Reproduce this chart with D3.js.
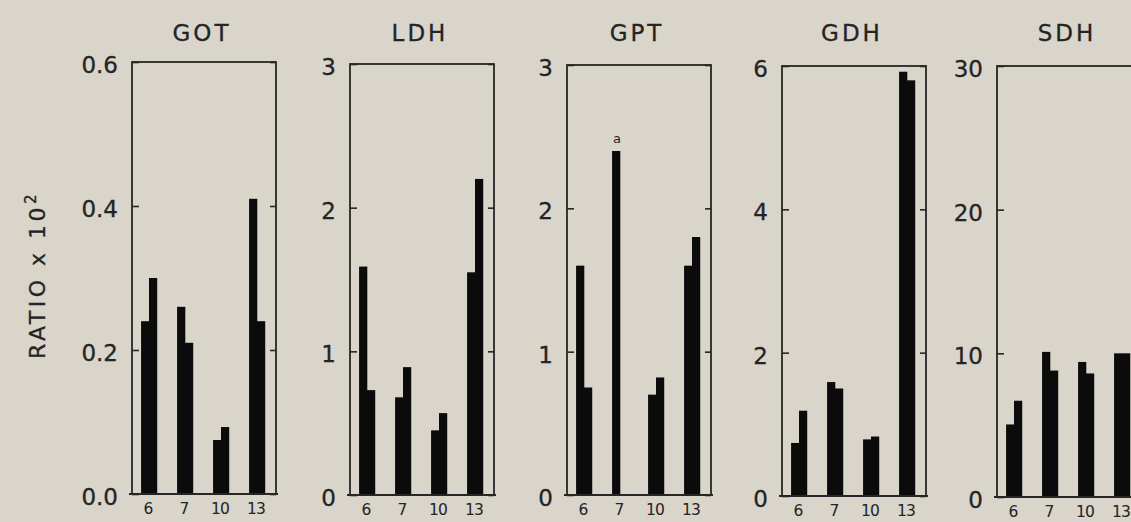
<!DOCTYPE html>
<html>
<head>
<meta charset="utf-8">
<script src="https://cdn.jsdelivr.net/npm/d3@7"></script>
<style>
  html, body { margin: 0; padding: 0; background: #d9d5ca; }
  svg { display: block; }
  text { font-family: "DejaVu Sans", sans-serif; fill: #242424; }
</style>
</head>
<body>
<svg id="chart" width="1131" height="522"></svg>
<script>
// ---- data ----
const categories = ["6", "7", "10", "13"];
const panelNames = ["GOT", "LDH", "GPT", "GDH", "SDH"];
const yMaxes = [0.6, 3, 3, 6, 30];
const gotTicks = [0, 0.2, 0.4, 0.6];
const ldhTicks = [0, 1, 2, 3];
const gptTicks = [0, 1, 2, 3];
const gdhTicks = [0, 2, 4, 6];
const sdhTicks = [0, 10, 20, 30];
const gotA = [0.24, 0.26, 0.075, 0.41];
const gotB = [0.30, 0.21, 0.093, 0.24];
const ldhA = [1.59, 0.68, 0.45, 1.55];
const ldhB = [0.73, 0.89, 0.57, 2.20];
const gptA = [1.60, 2.40, 0.70, 1.60];
const gptB = [0.75, null, 0.82, 1.80];
const gdhA = [0.74, 1.59, 0.79, 5.92];
const gdhB = [1.19, 1.50, 0.83, 5.80];
const sdhA = [5.05, 10.1, 9.4, 10.0];
const sdhB = [6.7, 8.8, 8.6, 10.0];
const annotations = [{ panel: "GPT", cat: "7", series: "A", text: "a" }];
const yLabel = "RATIO x 10";
const yLabelSup = "2";

// ---- layout ----
const svg = d3.select("#chart");
const lefts = [132, 350, 567, 782, 997];
const tops = [62, 64, 65, 66, 66];
const bottoms = [494, 495, 495, 496, 497];
const panelW = 144;

const panels = [
  { name: panelNames[0], ticks: gotTicks, A: gotA, B: gotB, fmt: d3.format(".1f") },
  { name: panelNames[1], ticks: ldhTicks, A: ldhA, B: ldhB, fmt: d3.format("d") },
  { name: panelNames[2], ticks: gptTicks, A: gptA, B: gptB, fmt: d3.format("d") },
  { name: panelNames[3], ticks: gdhTicks, A: gdhA, B: gdhB, fmt: d3.format("d") },
  { name: panelNames[4], ticks: sdhTicks, A: sdhA, B: sdhB, fmt: d3.format("d") }
];

panels.forEach((p, i) => {
  const x0 = lefts[i], x1 = x0 + panelW;
  const y0 = tops[i], y1 = bottoms[i];
  const x = d3.scaleBand().domain(categories).range([x0, x1]).padding(0);
  const sub = d3.scaleBand().domain(["A", "B"]).range([0, x.bandwidth() * 0.44]);
  const off = (x.bandwidth() - x.bandwidth() * 0.44) / 2 - 1;
  const y = d3.scaleLinear().domain([0, yMaxes[i]]).range([y1, y0]);
  const g = svg.append("g");

  // bars
  const rows = [];
  categories.forEach((c, k) => {
    if (p.A[k] != null) rows.push({ c, s: "A", v: p.A[k] });
    if (p.B[k] != null) rows.push({ c, s: "B", v: p.B[k] });
  });
  g.selectAll("rect.bar").data(rows).join("rect")
    .attr("class", "bar")
    .attr("x", d => x(d.c) + off + sub(d.s))
    .attr("width", sub.bandwidth() + 0.3)
    .attr("y", d => y(d.v))
    .attr("height", d => y(0) - y(d.v))
    .attr("fill", "#0b0b0b");

  // frame
  g.append("rect")
    .attr("x", x0).attr("y", y0)
    .attr("width", panelW).attr("height", y1 - y0)
    .attr("fill", "none").attr("stroke", "#262626").attr("stroke-width", 1.8);
  g.append("line")
    .attr("x1", x0 - 3).attr("x2", x1 + 2).attr("y1", y1).attr("y2", y1)
    .attr("stroke", "#262626").attr("stroke-width", 2);

  // left axis (labels + inward ticks)
  const ax = g.append("g").attr("transform", `translate(${x0},0)`)
    .call(d3.axisLeft(y).tickValues(p.ticks).tickFormat(p.fmt)
      .tickSizeInner(-7).tickSizeOuter(0).tickPadding(14));
  ax.select(".domain").remove();
  ax.selectAll("line").attr("stroke", "#262626").attr("stroke-width", 1.6);
  ax.selectAll("text").attr("font-size", 23).attr("dy", "0.45em")
    .style("font-family", "DejaVu Sans, sans-serif").attr("fill", "#242424")
    .attr("stroke", "#242424").attr("stroke-width", 0.3);

  // right axis ticks (inward)
  const axr = g.append("g").attr("transform", `translate(${x1},0)`)
    .call(d3.axisRight(y).tickValues(p.ticks).tickFormat("")
      .tickSizeInner(-6).tickSizeOuter(0));
  axr.select(".domain").remove();
  axr.selectAll("line").attr("stroke", "#262626").attr("stroke-width", 1.6);

  // bottom axis labels
  const axb = g.append("g").attr("transform", `translate(-2,${y1})`)
    .call(d3.axisBottom(x).tickSize(0).tickPadding(9));
  axb.select(".domain").remove();
  axb.selectAll("text").attr("font-size", 15.5).attr("letter-spacing", -0.8)
    .style("font-family", "DejaVu Sans, sans-serif").attr("fill", "#242424");

  // title
  g.append("text")
    .attr("x", (x0 + x1) / 2 - 2).attr("y", 41)
    .attr("text-anchor", "middle")
    .attr("font-size", 23).attr("letter-spacing", 3)
    .attr("stroke", "#242424").attr("stroke-width", 0.3)
    .text(p.name);

  // annotations
  annotations.filter(a => a.panel === p.name).forEach(a => {
    const k = categories.indexOf(a.cat);
    const v = a.series === "A" ? p.A[k] : p.B[k];
    g.append("text")
      .attr("x", x(a.cat) + off + sub(a.series) + sub.bandwidth() / 2 + 1)
      .attr("y", y(v) - 8)
      .attr("text-anchor", "middle")
      .attr("font-size", 13)
      .text(a.text);
  });
});

// y-axis title
const yl = svg.append("text")
  .attr("transform", "translate(45,275) rotate(-90)")
  .attr("text-anchor", "middle")
  .attr("font-size", 22).attr("letter-spacing", 3.5)
  .attr("stroke", "#242424").attr("stroke-width", 0.3);
yl.append("tspan").text(yLabel);
yl.append("tspan").attr("font-size", 15).attr("dy", "-0.6em").text(yLabelSup);
</script>
</body>
</html>
